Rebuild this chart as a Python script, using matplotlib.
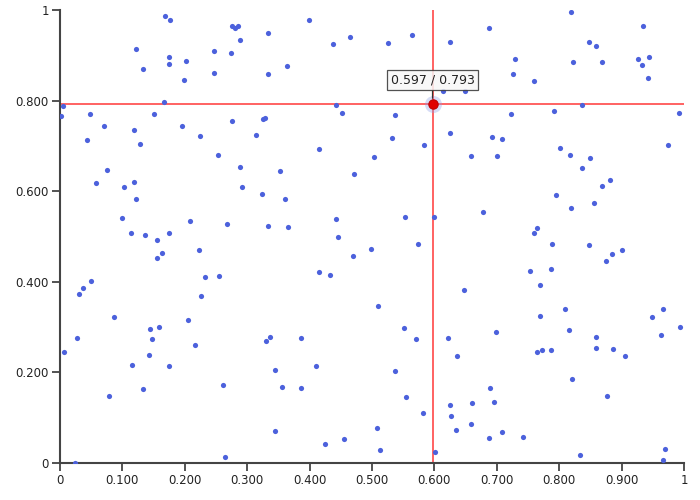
import matplotlib
matplotlib.use("Agg")
import matplotlib.pyplot as plt
from matplotlib.patches import FancyBboxPatch

# scatter data (x, y in 0..1)
xs = [0.168, 0.176, 0.121, 0.175, 0.202, 0.246, 0.175, 0.133, 0.198, 0.246,
      0.167, 0.005, 0.002, 0.048, 0.151, 0.071, 0.196, 0.119, 0.044, 0.225,
      0.129, 0.275, 0.280, 0.286, 0.399, 0.334, 0.288, 0.465, 0.274, 0.438,
      0.333, 0.364, 0.442, 0.452, 0.276, 0.325, 0.329, 0.314, 0.415, 0.254,
      0.526, 0.564, 0.625, 0.687, 0.729, 0.726, 0.613, 0.649, 0.537,
      0.722, 0.532, 0.583, 0.625, 0.692, 0.708, 0.504, 0.658, 0.701, 0.819,
      0.935, 0.848, 0.859, 0.822, 0.869, 0.926, 0.944, 0.932, 0.942, 0.760,
      0.836, 0.791, 0.992, 0.802, 0.817, 0.850, 0.974, 0.075, 0.058, 0.102,
      0.119, 0.121, 0.099, 0.208, 0.113, 0.136, 0.156, 0.175, 0.223, 0.163,
      0.156, 0.232, 0.049, 0.037, 0.031, 0.226, 0.289, 0.352, 0.471, 0.291,
      0.323, 0.361, 0.442, 0.445, 0.268, 0.334, 0.365, 0.470, 0.498, 0.415,
      0.433, 0.255, 0.553, 0.600, 0.678, 0.574, 0.647, 0.510, 0.837, 0.881,
      0.869, 0.795, 0.855, 0.819, 0.764, 0.760, 0.789, 0.848, 0.884, 0.901,
      0.875, 0.753, 0.787, 0.770, 0.809, 0.966, 0.087, 0.205, 0.027, 0.145,
      0.158, 0.147, 0.217, 0.007, 0.142, 0.116, 0.174, 0.133, 0.079, 0.024,
      0.330, 0.337, 0.387, 0.411, 0.344, 0.262, 0.355, 0.386, 0.345, 0.425,
      0.455, 0.265, 0.551, 0.571, 0.621, 0.699, 0.637, 0.537, 0.689, 0.555,
      0.625, 0.661, 0.696, 0.581, 0.627, 0.659, 0.508, 0.634, 0.709, 0.687,
      0.742, 0.513, 0.601, 0.769, 0.949, 0.816, 0.993, 0.859, 0.963, 0.765,
      0.773, 0.787, 0.859, 0.886, 0.905, 0.820, 0.876, 0.833, 0.970, 0.967]
ys = [0.987, 0.977, 0.915, 0.896, 0.887, 0.909, 0.880, 0.869, 0.846, 0.860,
      0.798, 0.787, 0.765, 0.770, 0.770, 0.745, 0.743, 0.735, 0.714, 0.721,
      0.704, 0.965, 0.961, 0.964, 0.979, 0.949, 0.933, 0.940, 0.904, 0.924,
      0.859, 0.876, 0.790, 0.772, 0.756, 0.759, 0.762, 0.725, 0.694, 0.680,
      0.928, 0.945, 0.930, 0.960, 0.891, 0.859, 0.821, 0.821, 0.768,
      0.771, 0.717, 0.703, 0.728, 0.719, 0.715, 0.675, 0.678, 0.678, 0.996,
      0.965, 0.930, 0.920, 0.885, 0.885, 0.891, 0.897, 0.879, 0.850, 0.843,
      0.790, 0.776, 0.773, 0.695, 0.681, 0.673, 0.702, 0.646, 0.619, 0.609,
      0.620, 0.583, 0.540, 0.534, 0.508, 0.503, 0.492, 0.508, 0.470, 0.463,
      0.453, 0.411, 0.402, 0.387, 0.372, 0.369, 0.653, 0.644, 0.638, 0.610,
      0.594, 0.583, 0.538, 0.500, 0.528, 0.524, 0.522, 0.456, 0.472, 0.422,
      0.415, 0.413, 0.542, 0.543, 0.553, 0.483, 0.383, 0.346, 0.652, 0.625,
      0.611, 0.592, 0.573, 0.564, 0.519, 0.508, 0.483, 0.481, 0.461, 0.470,
      0.445, 0.424, 0.428, 0.393, 0.341, 0.340, 0.322, 0.316, 0.277, 0.295,
      0.300, 0.274, 0.260, 0.245, 0.238, 0.217, 0.214, 0.164, 0.148, 0.001,
      0.269, 0.279, 0.276, 0.214, 0.206, 0.173, 0.167, 0.165, 0.071, 0.043,
      0.052, 0.013, 0.298, 0.274, 0.277, 0.290, 0.237, 0.202, 0.166, 0.146,
      0.128, 0.133, 0.135, 0.110, 0.104, 0.085, 0.077, 0.072, 0.068, 0.056,
      0.057, 0.029, 0.024, 0.325, 0.323, 0.294, 0.300, 0.279, 0.283, 0.244,
      0.250, 0.250, 0.253, 0.251, 0.236, 0.185, 0.148, 0.018, 0.032, 0.006]

# hovered point
hx, hy = 0.597, 0.793
hover_label = "0.597 / 0.793"

xticks = [0, 0.1, 0.2, 0.3, 0.4, 0.5, 0.6, 0.7, 0.8, 0.9, 1]
xticklabels = ["0", "0.100", "0.200", "0.300", "0.400", "0.500", "0.600", "0.700", "0.800", "0.900", "1"]
yticks = [0, 0.2, 0.4, 0.6, 0.8, 1]
yticklabels = ["0", "0.200", "0.400", "0.600", "0.800", "1"]

plt.rcParams['font.family'] = ['DejaVu Sans']
fig = plt.figure(figsize=(7, 5), dpi=100)
ax = fig.add_axes([60/700, 37/500, 624/700, 453/500])
ax.set_xlim(0, 1); ax.set_ylim(0, 1)

ax.scatter(xs, ys, s=14, color='#4c61dc', linewidths=0, zorder=3)

# crosshair
ax.axhline(hy, color='#ff3b3b', lw=1.4, alpha=0.8, zorder=2)
ax.axvline(hx, color='#ff3b3b', lw=1.4, alpha=0.8, zorder=2)

# highlighted point with halo
ax.scatter([hx], [hy], s=150, color='#8a9be8', alpha=0.35, linewidths=0, zorder=4)
ax.scatter([hx], [hy], s=45, color='#e00000', edgecolors='#c00000', linewidths=0.8, zorder=5)

# tooltip
ax.annotate(hover_label, xy=(hx, hy), xytext=(hx, hy + 0.038),
            ha='center', va='bottom', fontsize=9, color='#222222', zorder=6,
            bbox=dict(boxstyle='square,pad=0.3', fc='#f7f7f7', ec='#333333', lw=0.9, alpha=0.85),
            arrowprops=dict(arrowstyle='-', color='#333333', lw=0.9, shrinkA=0, shrinkB=4))

for side in ['top', 'right']:
    ax.spines[side].set_visible(False)
for side in ['left', 'bottom']:
    ax.spines[side].set_color('#444444')
    ax.spines[side].set_linewidth(1.5)

ax.set_xticks(xticks); ax.set_xticklabels(xticklabels)
ax.set_yticks(yticks); ax.set_yticklabels(yticklabels)
ax.tick_params(axis='both', length=6, width=1.3, color='#444444', labelsize=8.5, labelcolor='#222222', pad=2)

plt.savefig('out.png', dpi=100)
